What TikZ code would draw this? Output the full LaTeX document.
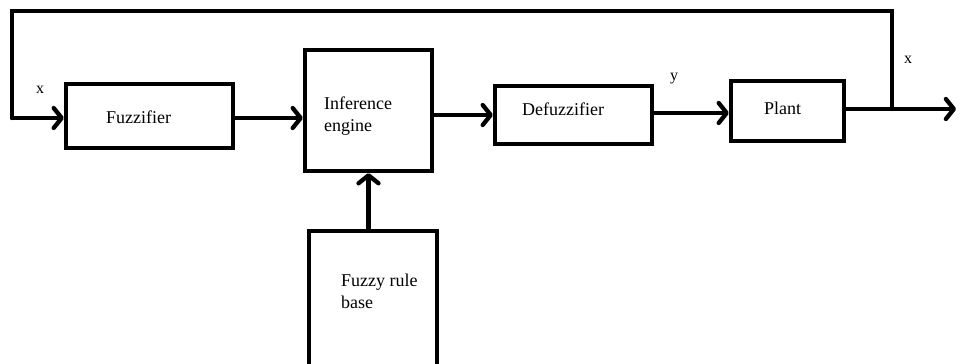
\documentclass[tikz,border=0pt]{standalone}
\usepackage{fontspec}
\setmainfont{Liberation Serif}
\usetikzlibrary{arrows.meta}
\begin{document}
\begin{tikzpicture}[x=1pt,y=-1pt,
  blk/.style={draw,line width=4.3pt,inner sep=0pt},
  txt/.style={font=\fontsize{18pt}{22pt}\selectfont,inner sep=0pt,align=left,anchor=west},
  lbl/.style={font=\fontsize{16pt}{18pt}\selectfont,inner sep=0pt},
  wire/.style={line width=4.3pt,line cap=round},
  arr/.style={wire,-{Straight Barb[length=8pt,width=20pt,line cap=round,line join=round]}}]
\useasboundingbox (0,0) rectangle (961,364);
\fill[white] (0,0) rectangle (961,364);
% blocks
\node[blk,minimum width=167pt,minimum height=64pt] (fuzz) at (149.5,116) {};
\node[blk,minimum width=127pt,minimum height=121pt] (inf) at (368.5,110.5) {};
\node[blk,minimum width=157pt,minimum height=58pt] (defz) at (573.5,115) {};
\node[blk,minimum width=113pt,minimum height=60pt] (plant) at (787.5,111) {};
\node[blk,minimum width=128pt,minimum height=158pt] (rule) at (373,310) {};
% texts
\node[txt] (tfuzz) at (106,117) {Fuzzifier};
\node[txt] (tinf) at (324,116) {Inference\\engine};
\node[txt] (tdefz) at (522,109) {Defuzzifier};
\node[txt] (tplant) at (764,108) {Plant};
\node[txt] (trule) at (341,291) {Fuzzy rule\\base};
\node[lbl] (lx1) at (40,90) {x};
\node[lbl] (ly) at (674,79) {y};
\node[lbl] (lx2) at (908,60) {x};
% coordinates
\coordinate (j) at (892,109);
\coordinate (out) at (956,109);
\coordinate (tr) at (892,11);
\coordinate (tl) at (12,11);
% connectors
\draw[arr] (fuzz.east |- 0,118) -- (inf.west |- 0,118);
\draw[arr] (inf.east |- defz.west) -- (defz.west);
\draw[arr] (defz.east |- 0,113) -- (plant.west |- 0,113);
\draw[arr] (plant.east |- j) -- (out);
\draw[wire,line join=miter] (j) -- (tr) -- (tl) -- (tl |- 0,118);
\draw[arr] (tl |- 0,118) -- (fuzz.west |- 0,118);
\draw[arr] (inf.south |- rule.north) -- (inf.south);
\end{tikzpicture}
\end{document}
